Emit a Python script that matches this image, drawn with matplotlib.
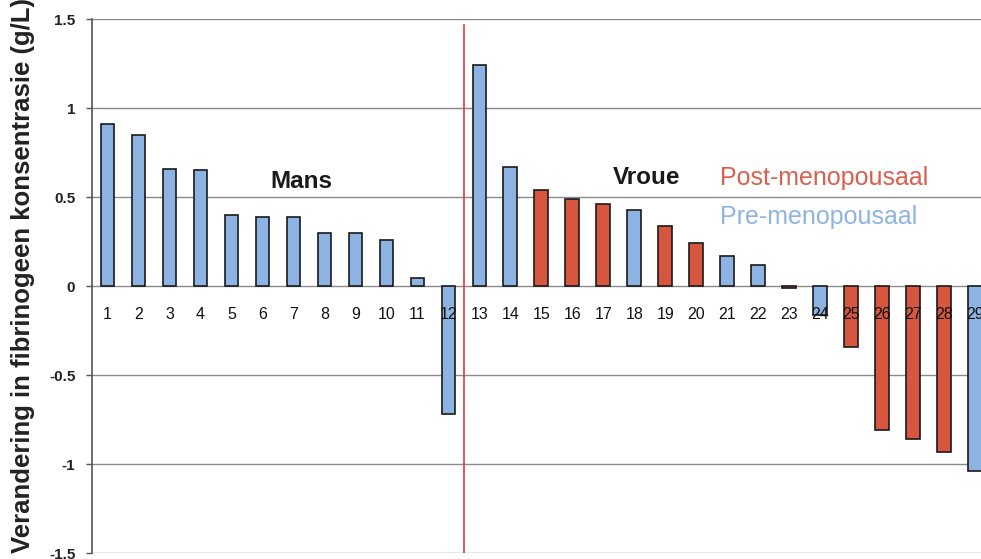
import numpy as np
import matplotlib.pyplot as plt

plt.rcParams['font.family'] = ['Liberation Sans', 'DejaVu Sans']

# persone 1-12 mans, 13-29 vroue
subjects = [str(i) for i in range(1, 30)]
change = [0.91, 0.85, 0.66, 0.65, 0.40, 0.39, 0.39, 0.30, 0.30, 0.26, 0.045, -0.72,
          1.24, 0.67, 0.54, 0.49, 0.46, 0.43, 0.34, 0.24, 0.17, 0.12, -0.01, -0.16,
          -0.34, -0.81, -0.86, -0.93, -1.04]
# P = post-menopousaal, M = mans / pre-menopousaal
group = ['M'] * 12 + ['M', 'M', 'P', 'P', 'P', 'M', 'P', 'P', 'M', 'M', 'P', 'M',
                      'P', 'P', 'P', 'P', 'M']
yticks = [1.5, 1, 0.5, 0, -0.5, -1, -1.5]
ytick_labels = ['1.5', '1', '0.5', '0', '-0.5', '-1', '-1.5']

blue = '#8db3e2'
red = '#d6563f'
colors = [red if g == 'P' else blue for g in group]

fig = plt.figure(figsize=(9.81, 5.59), dpi=100)
ax = fig.add_axes([0.0938, 0.0107, 0.9062, 0.955])

x = np.arange(1, len(change) + 1)
ax.bar(x, change, width=0.45, color=colors, edgecolor='#1a1a1a', linewidth=1.2, zorder=3)

ax.set_xlim(0.5, 29.18)
ax.set_ylim(-1.5, 1.5)
ax.set_yticks(yticks)
ax.set_yticklabels(ytick_labels, fontsize=11, fontweight='bold', color='#222222')
ax.yaxis.grid(True, color='#8a8a8a', linewidth=1.0, zorder=0)
ax.tick_params(axis='y', length=4, width=1, color='#555555', pad=8)

# x-as etikette net onder die nul-lyn, bo-oor die stawe
ax.spines['bottom'].set_position(('data', 0))
ax.spines['bottom'].set_visible(False)
ax.set_xticks(x)
ax.set_xticklabels(subjects, fontsize=11.5, color='#111111')
ax.tick_params(axis='x', length=0, pad=15)
ax.xaxis.set_zorder(5)

for s in ['top', 'right']:
    ax.spines[s].set_visible(False)
ax.spines['left'].set_color('#555555')
ax.spines['left'].set_linewidth(1.2)

ax.axvline(12.5, ymin=0, ymax=0.99, color='#e03a3a', linewidth=1.2, zorder=2)

ax.text(7.25, 0.59, 'Mans', fontsize=17.5, fontweight='bold', ha='center', va='center',
        color='#1a1a1a')
ax.text(18.4, 0.61, 'Vroue', fontsize=17.5, fontweight='bold', ha='center', va='center',
        color='#1a1a1a')
ax.text(20.75, 0.61, 'Post-menopousaal', fontsize=18, color='#d9604e', ha='left', va='center')
ax.text(20.75, 0.39, 'Pre-menopousaal', fontsize=18, color='#8fb4e3', ha='left', va='center')

ax.set_ylabel('Verandering in fibrinogeen konsentrasie (g/L)', fontsize=18.5,
              fontweight='bold', color='#222222')
ax.yaxis.set_label_coords(-0.064, 0.52)

fig.savefig('out.png', dpi=100)
